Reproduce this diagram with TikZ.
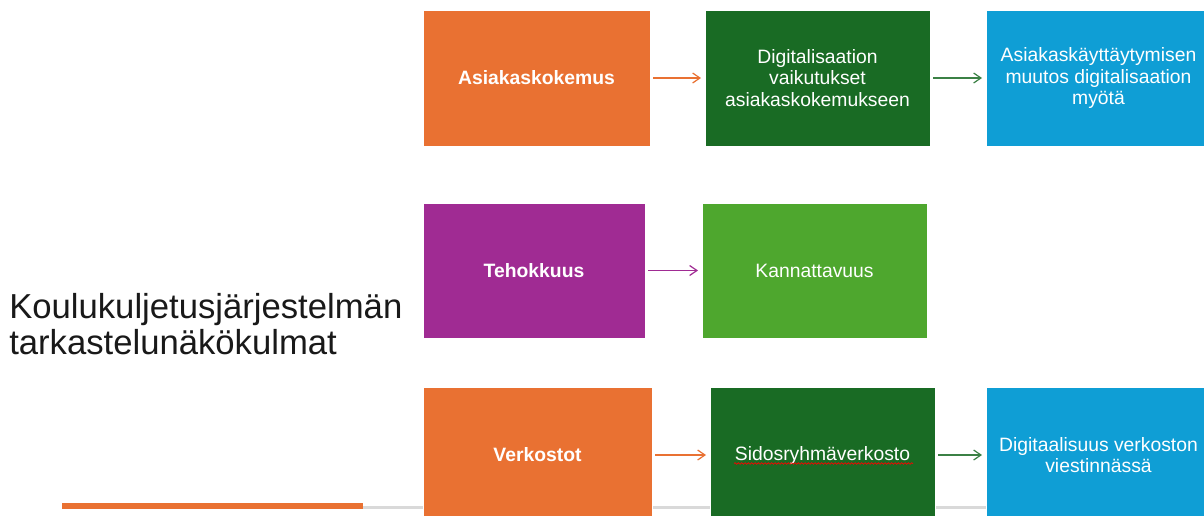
\documentclass[tikz,border=0pt]{standalone}
\usepackage{fontspec}
\setmainfont{Liberation Sans}
\usetikzlibrary{arrows.meta,positioning,decorations.pathmorphing}
\definecolor{oranssi}{HTML}{E97132}
\definecolor{tummavihrea}{HTML}{196B24}
\definecolor{sininen}{HTML}{0F9ED5}
\definecolor{violetti}{HTML}{A02B93}
\definecolor{vaaleavihrea}{HTML}{4EA72E}
\definecolor{harmaa}{HTML}{D9D9D9}

\tikzset{
  box/.style={draw=white, line width=0.4pt, inner sep=0pt, outer sep=0pt,
    minimum width=168.75pt, minimum height=102pt, text=white, align=center,
    font=\fontsize{14.5}{16}\selectfont},
  headbox/.style={box, font=\fontsize{14.5}{16}\selectfont\bfseries},
  nuoli/.style={line width=0.9pt, -{Straight Barb[length=5.5pt,width=7.5pt]},
    shorten <=2.5pt, shorten >=3pt}
}

\begin{document}
\begin{tikzpicture}[x=0.75pt,y=-0.75pt]
            \clip (0,0) rectangle (1204,515);
            \fill[white] (0,0) rectangle (1204,515);

            % alaviiva
            \draw[harmaa, line width=2pt] (62,507.3) -- (1204,507.3);
            \draw[oranssi, line width=4.5pt] (62,505.7) -- (363,505.7);

            \node[anchor=west, align=left, inner sep=0pt, text=black!90,
              font=\fontsize{26}{26.6}\selectfont] (otsikko) at (9,324)
              {Koulukuljetusjärjestelmän\\tarkastelunäkökulmat};

            % rivi 1
            \node[headbox, fill=oranssi, minimum width=170.25pt] (ak) at (536.5,78) {Asiakaskokemus};
            \node[box, fill=tummavihrea] (dv) at (817.5,78) {Digitalisaation\\vaikutukset\\asiakaskokemukseen};
            \node[box, fill=sininen] (am) at (1098.5,78) {Asiakaskäyttäytymisen\\muutos digitalisaation\\myötä};

            % rivi 2
            \node[headbox, fill=violetti, minimum width=166.5pt, minimum height=101.25pt] (te) at (534,270.5) {Tehokkuus};
            \node[box, fill=vaaleavihrea, minimum height=101.25pt] (ka) at (814.5,270.5) {Kannattavuus};

            % rivi 3
            \node[headbox, fill=oranssi, minimum width=171.75pt] (ve) at (537.5,455) {Verkostot};
            \node[box, fill=tummavihrea] (si) at (822.5,455) {Sidosryhmäverkosto};
            \node[box, fill=sininen] (dvv) at (1098.5,455) {Digitaalisuus verkoston\\viestinnässä};

            \draw[red, line width=0.5pt, decorate,
              decoration={snake, amplitude=0.6pt, segment length=2.5pt}] (734,463.5) -- (913,463.5);

            \draw[nuoli, oranssi] (ak) -- (dv);
            \draw[nuoli, tummavihrea!85] (dv) -- (am);
            \draw[nuoli, violetti] (te) -- (ka);
            \draw[nuoli, oranssi] (ve) -- (si);
            \draw[nuoli, tummavihrea!85] (si) -- (dvv);
\end{tikzpicture}
\end{document}
